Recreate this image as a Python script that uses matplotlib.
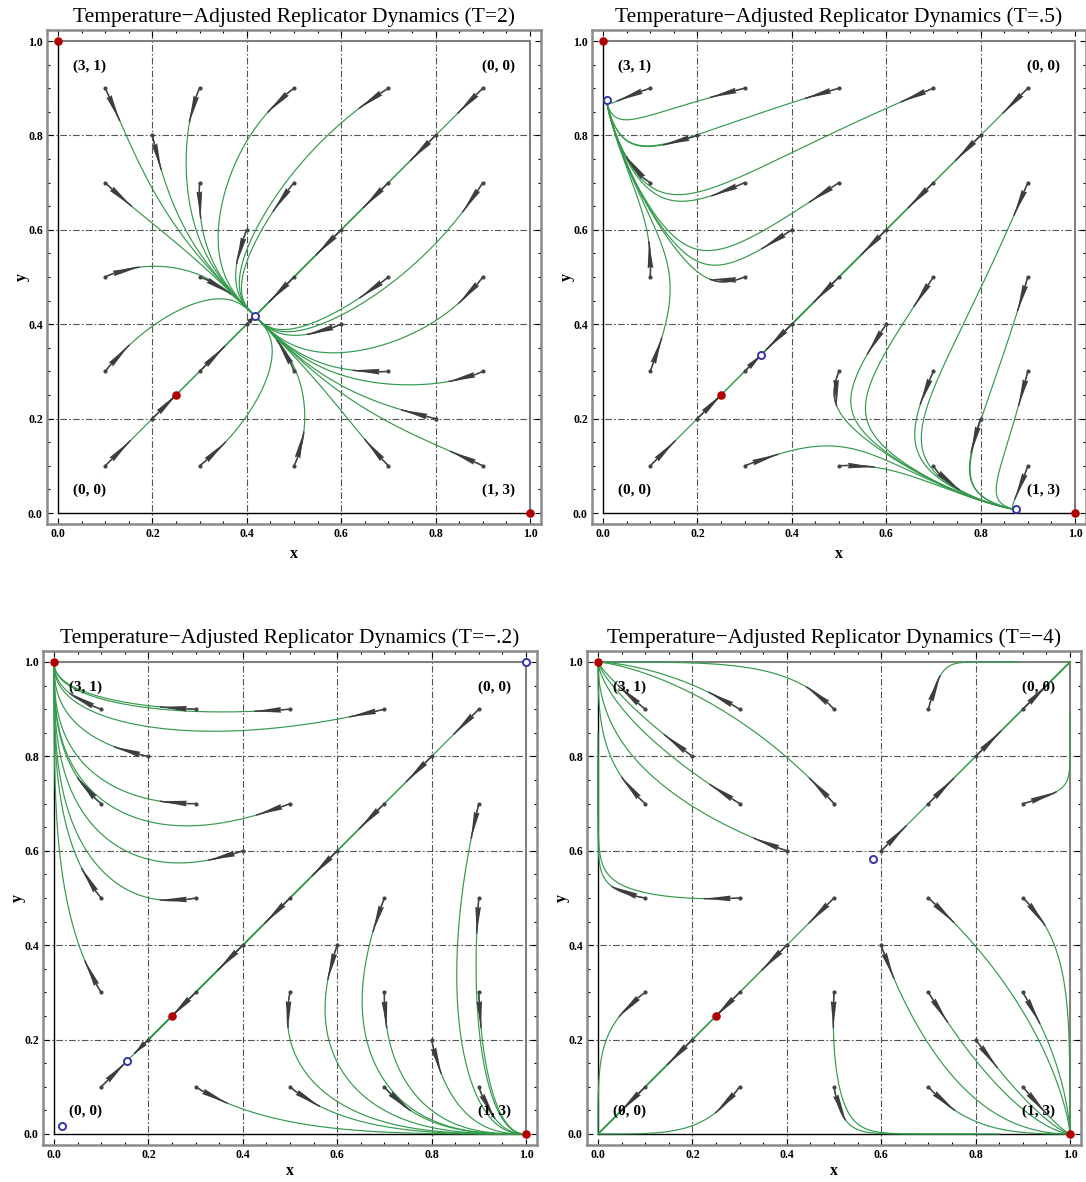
import numpy as np
import matplotlib.pyplot as plt
from matplotlib.patches import Polygon

# ---- data ----
temps = [2, 0.5, -0.2, -4]
titles = ["Temperature\u2212Adjusted Replicator Dynamics (T=2)",
          "Temperature\u2212Adjusted Replicator Dynamics (T=.5)",
          "Temperature\u2212Adjusted Replicator Dynamics (T=\u2212.2)",
          "Temperature\u2212Adjusted Replicator Dynamics (T=\u22124)"]

# payoffs (row player / column player), strategy 1 first
payoff_row = [[0, 1], [3, 0]]
payoff_col = [[0, 1], [3, 0]]

# starting points of the trajectories
start_x = [0.1, 0.3, 0.5, 0.7, 0.9] * 5 + [0.2, 0.4, 0.6, 0.8, 0.2, 0.4, 0.6, 0.8]
start_y = ([0.1] * 5 + [0.3] * 5 + [0.5] * 5 + [0.7] * 5 + [0.9] * 5
           + [0.2, 0.4, 0.6, 0.8, 0.8, 0.6, 0.4, 0.2])

# Nash equilibria (red) and rest points of each dynamic (blue)
nash_x = [0, 1, 0.25]
nash_y = [1, 0, 0.25]
rest_x = [[0.417], [0.335, 0.008, 0.875], [0.155, 0.016, 1.0], [0.583]]
rest_y = [[0.417], [0.335, 0.875, 0.008], [0.155, 0.016, 1.0], [0.583]]

corner_labels = ["(3, 1)", "(0, 0)", "(0, 0)", "(1, 3)"]

# ---- dynamics (integrated in logit coordinates) ----
A = np.array(payoff_row, float)
B = np.array(payoff_col, float)


def sig(a):
    return 0.5 * (1 + np.tanh(0.5 * a))


def field(a, b, T):
    x, y = sig(a), sig(b)
    gx = (A[0, 0] - A[1, 0]) * y + (A[0, 1] - A[1, 1]) * (1 - y)
    gy = (B[0, 0] - B[1, 0]) * x + (B[0, 1] - B[1, 1]) * (1 - x)
    return gx - T * a, gy - T * b


def trajectories(T, x0, y0, t_max=40.0, dt=0.005):
    x0, y0 = np.array(x0), np.array(y0)
    a, b = np.log(x0 / (1 - x0)), np.log(y0 / (1 - y0))
    alive = np.ones(len(a), bool)
    xs, ys = [sig(a)], [sig(b)]
    for _ in range(int(t_max / dt)):
        if not alive.any():
            break
        k1 = field(a, b, T)
        k2 = field(a + dt / 2 * k1[0], b + dt / 2 * k1[1], T)
        k3 = field(a + dt / 2 * k2[0], b + dt / 2 * k2[1], T)
        k4 = field(a + dt * k3[0], b + dt * k3[1], T)
        na = a + dt / 6 * (k1[0] + 2 * k2[0] + 2 * k3[0] + k4[0])
        nb = b + dt / 6 * (k1[1] + 2 * k2[1] + 2 * k3[1] + k4[1])
        a = np.where(alive, na, a)
        b = np.where(alive, nb, b)
        xs.append(np.where(alive, sig(a), np.nan))
        ys.append(np.where(alive, sig(b), np.nan))
        # stop like a solver does once a coordinate is pinned at 0 or 1
        alive = alive & (np.abs(a) < 18) & (np.abs(b) < 18)
    return np.array(xs), np.array(ys)


def draw_arrow(ax, px, py, length=0.075, width=0.012):
    ok = ~np.isnan(px)
    px, py = px[ok], py[ok]
    s = np.concatenate([[0], np.cumsum(np.hypot(np.diff(px), np.diff(py)))])
    L = min(length, s[-1])
    if L <= 1e-4:
        return
    sb = 0.25 * L
    tip = np.array([np.interp(L, s, px), np.interp(L, s, py)])
    base = np.array([np.interp(sb, s, px), np.interp(sb, s, py)])
    keep = s <= L
    ax.plot(np.append(px[keep], tip[0]), np.append(py[keep], tip[1]),
            color='#444444', lw=1.1, zorder=4, solid_capstyle='round')
    d = tip - base
    d = d / np.hypot(*d)
    n = np.array([-d[1], d[0]])
    notch = base + 0.05 * (tip - base)
    poly = [base + width / 2 * n, tip, base - width / 2 * n, notch]
    ax.add_patch(Polygon(poly, closed=True, color='#3d3d3d', zorder=4, lw=0))


# ---- figure ----
plt.rcParams['font.family'] = ['Liberation Serif', 'DejaVu Serif']
fig = plt.figure(figsize=(10.86, 11.82), dpi=100)
W, H = 1086, 1182
boxes = [(47, 30), (592, 30), (43, 651), (587, 651)]
size = 494
pad = 11 / 472

for k, T in enumerate(temps):
    left, top = boxes[k]
    ax = fig.add_axes([left / W, 1 - (top + size) / H, size / W, size / H])
    ax.set_xlim(-pad, 1 + pad)
    ax.set_ylim(-pad, 1 + pad)

    # dot-dashed grid
    for g in [0.2, 0.4, 0.6, 0.8]:
        ax.axvline(g, color='#555555', lw=0.8, ls=(0, (6, 2, 1.5, 2)), zorder=1)
        ax.axhline(g, color='#555555', lw=0.8, ls=(0, (6, 2, 1.5, 2)), zorder=1)

    # unit square
    ax.plot([0, 1], [0, 0], color='black', lw=1.0, zorder=2)
    ax.plot([0, 0], [0, 1], color='black', lw=1.0, zorder=2)
    ax.plot([0, 1], [1, 1], color='#808080', lw=1.5, zorder=2)
    ax.plot([1, 1], [0, 1], color='#808080', lw=1.5, zorder=2)

    xs, ys = trajectories(T, start_x, start_y)
    for i in range(len(start_x)):
        ax.plot(xs[:, i], ys[:, i], color='#339a4b', lw=0.85, zorder=3)
    for i in range(len(start_x)):
        draw_arrow(ax, xs[:, i], ys[:, i])
    ax.scatter(start_x, start_y, s=9, color='#444444', zorder=5, lw=0)

    ax.scatter(nash_x, nash_y, s=38, color='#b20000', zorder=6, lw=0, clip_on=False)
    ax.scatter(rest_x[k], rest_y[k], s=26, facecolor='white', edgecolor='#3535a8',
               lw=1.4, zorder=6, clip_on=False)

    # payoff labels in the corners
    cl = dict(fontsize=11, fontweight='bold', ha='center', va='center', zorder=7)
    ax.text(0.066, 0.947, corner_labels[0], **cl)
    ax.text(0.934, 0.947, corner_labels[1], **cl)
    ax.text(0.066, 0.049, corner_labels[2], **cl)
    ax.text(0.934, 0.049, corner_labels[3], **cl)

    ax.set_xticks([0, 0.2, 0.4, 0.6, 0.8, 1.0])
    ax.set_yticks([0, 0.2, 0.4, 0.6, 0.8, 1.0])
    ax.set_xticks(np.arange(0, 1.001, 0.05), minor=True)
    ax.set_yticks(np.arange(0, 1.001, 0.05), minor=True)
    ax.set_xticklabels(['0.0', '0.2', '0.4', '0.6', '0.8', '1.0'])
    ax.set_yticklabels(['0.0', '0.2', '0.4', '0.6', '0.8', '1.0'])
    ax.tick_params(which='both', direction='in', top=True, right=True,
                   labelsize=8.5, width=0.8, pad=3)
    ax.tick_params(which='major', length=4.5)
    ax.tick_params(which='minor', length=2.5)
    for lab in ax.get_xticklabels() + ax.get_yticklabels():
        lab.set_fontweight('bold')
    for sp in ax.spines.values():
        sp.set_color('#8a8a8a')
        sp.set_linewidth(1.8)

    ax.set_xlabel('x', fontsize=11.5, fontweight='bold', labelpad=4 if k < 2 else 1)
    ax.set_ylabel('y', fontsize=11.5, fontweight='bold', labelpad=-1)
    ax.set_title(titles[k], fontsize=15.5, pad=6)

fig.savefig('out.png', dpi=100)
